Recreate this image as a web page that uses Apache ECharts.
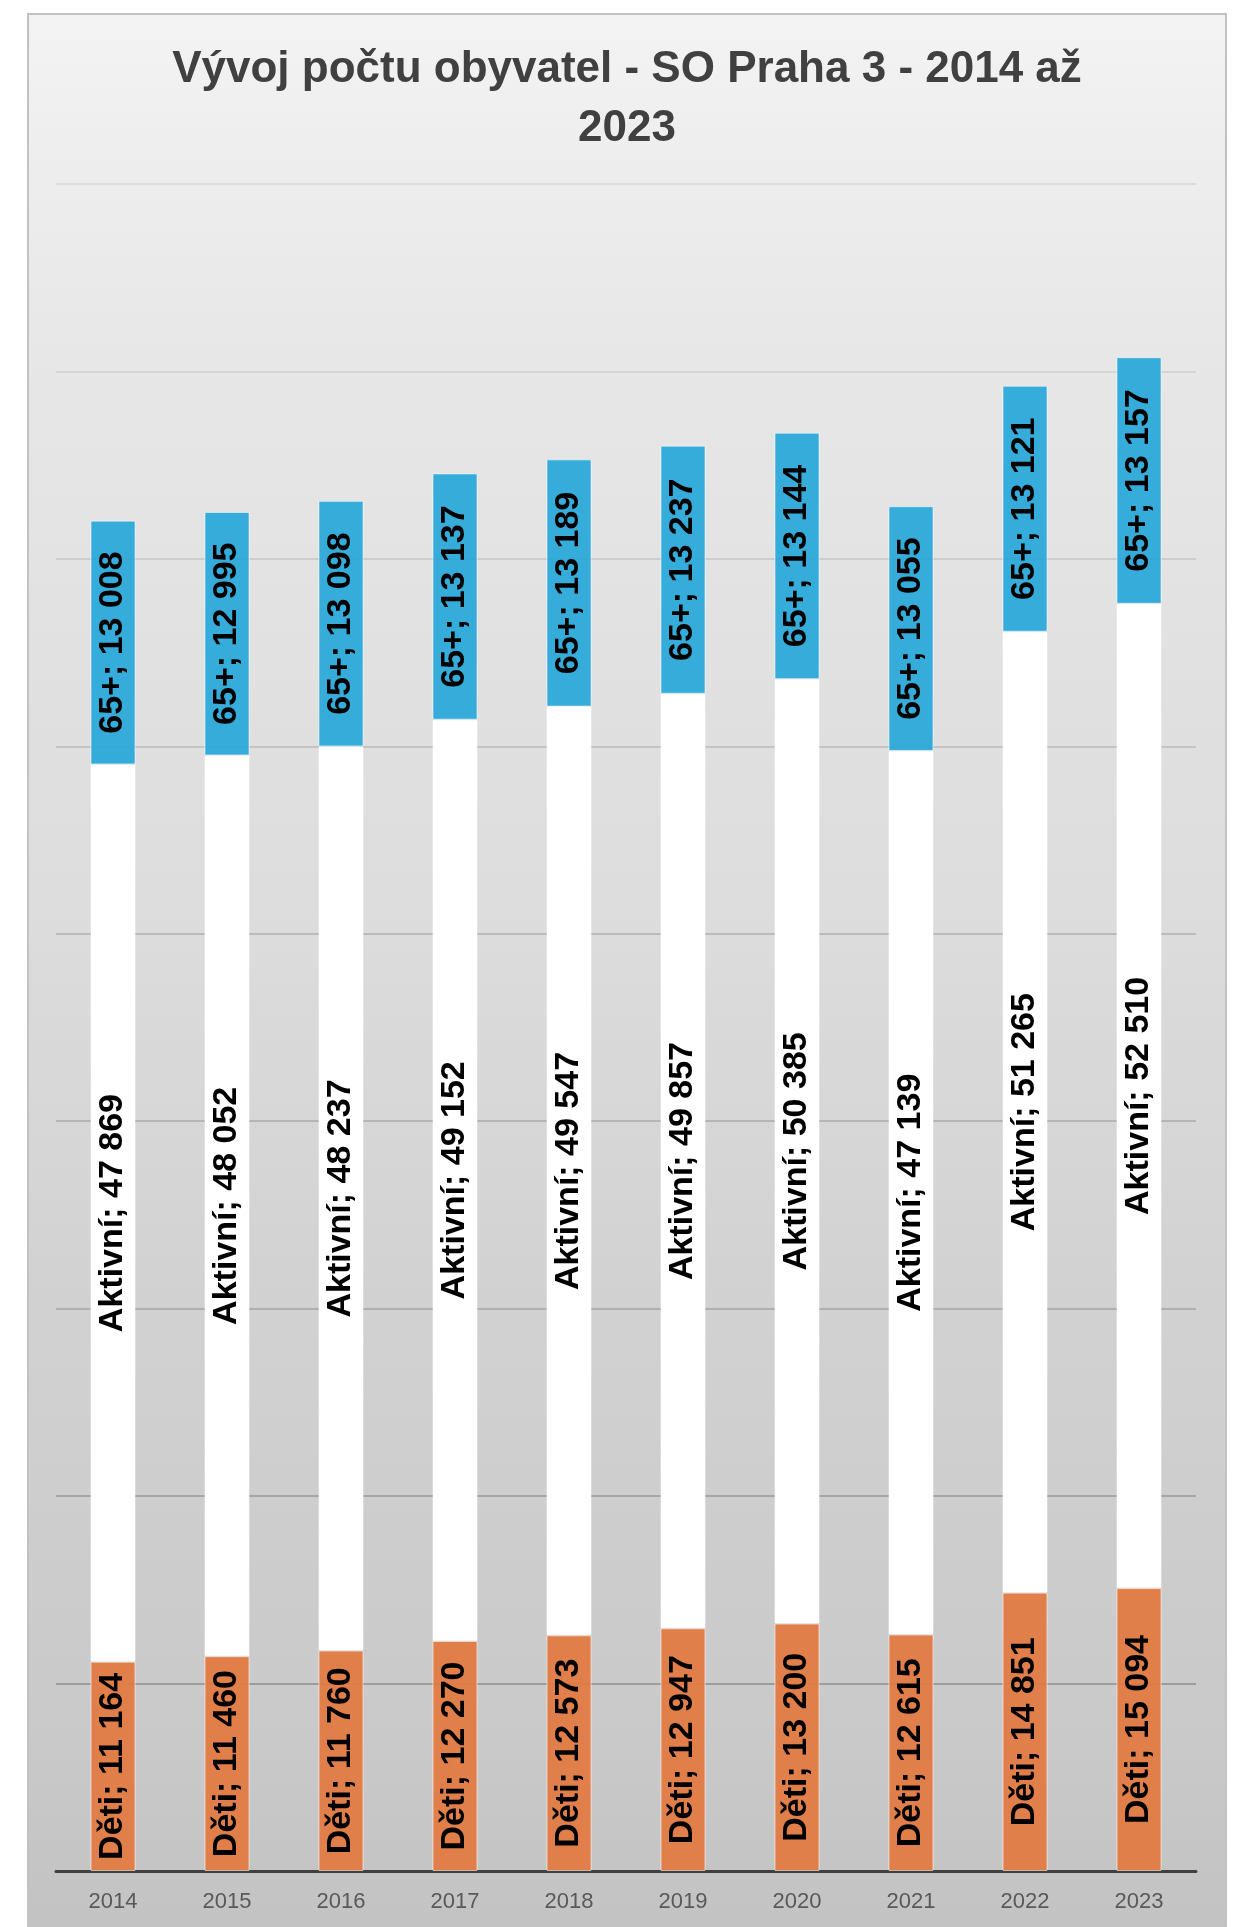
<!DOCTYPE html>
<html>
<head>
<meta charset="utf-8">
<script src="https://cdn.jsdelivr.net/npm/echarts@6/dist/echarts.min.js"></script>
<style>
html,body{margin:0;padding:0;background:#ffffff;width:1236px;height:1927px;overflow:hidden;}
#frame{position:absolute;left:27px;top:13px;width:1196px;height:1914px;border:2px solid #c2c2c2;border-bottom:none;}
#chart{width:1196px;height:1912px;}
</style>
</head>
<body>
<div id="frame"><div id="chart"></div></div>
<script>
const titleText = 'Vývoj počtu obyvatel - SO Praha 3 - 2014 až\n2023';
const years = ['2014','2015','2016','2017','2018','2019','2020','2021','2022','2023'];
const deti = [11164, 11460, 11760, 12270, 12573, 12947, 13200, 12615, 14851, 15094];
const aktivni = [47869, 48052, 48237, 49152, 49547, 49857, 50385, 47139, 51265, 52510];
const senior = [13008, 12995, 13098, 13137, 13189, 13237, 13144, 13055, 13121, 13157];
const yMax = 90000;
const yInterval = 10000;

function fmt(v){
  return String(v).replace(/\B(?=(\d{3})+(?!\d))/g, ' ');
}
const labelCfg = {
  show: true,
  position: 'inside',
  rotate: 90,
  color: '#000000',
  fontFamily: '"Liberation Sans", Arial, sans-serif',
  fontWeight: 'bold',
  fontSize: 34,
  formatter: p => p.seriesName + '; ' + fmt(p.value)
};
function mk(name, data, color){
  return {
    name: name,
    type: 'bar',
    stack: 'total',
    barWidth: 45,
    data: data,
    itemStyle: {color: color, borderColor: 'rgba(255,255,255,0.55)', borderWidth: 1},
    label: labelCfg
  };
}
const chart = echarts.init(document.getElementById('chart'), null, {renderer: 'canvas'});
chart.setOption({
  animation: false,
  backgroundColor: {
    type: 'linear', x: 0, y: 0, x2: 0, y2: 1,
    colorStops: [
      {offset: 0, color: '#f3f3f3'},
      {offset: 0.1, color: '#ececec'},
      {offset: 0.2, color: '#e6e6e6'},
      {offset: 0.48, color: '#dcdcdc'},
      {offset: 0.68, color: '#d1d1d1'},
      {offset: 0.88, color: '#cacaca'},
      {offset: 1, color: '#c3c3c3'}
    ]
  },
  title: {
    text: titleText,
    left: 'center',
    top: 20,
    textStyle: {
      fontFamily: '"Liberation Sans", Arial, sans-serif',
      fontWeight: 'bold',
      fontSize: 44,
      lineHeight: 59,
      color: '#404040'
    }
  },
  legend: {show: false},
  grid: {left: 27, top: 169, width: 1140, height: 1687},
  xAxis: {
    type: 'category',
    data: years,
    axisLine: {lineStyle: {color: '#404040', width: 3}},
    axisTick: {show: false},
    axisLabel: {
      color: '#595959',
      fontSize: 22,
      margin: 20,
      fontFamily: '"Liberation Sans", Arial, sans-serif'
    }
  },
  yAxis: {
    type: 'value',
    min: 0,
    max: yMax,
    interval: yInterval,
    axisLabel: {show: false},
    axisLine: {show: false},
    axisTick: {show: false},
    splitLine: {
      lineStyle: {
        width: 1.5,
        color: ['#8c8c8c','#8e8e8e','#999999','#a3a3a3','#aaaaaa','#b0b0b0','#bbbbbb','#c6c6c6','#cfcfcf','#d7d7d7']
      }
    }
  },
  series: [
    mk('Děti', deti, 'rgba(226,122,66,0.94)'),
    mk('Aktivní', aktivni, '#ffffff'),
    mk('65+', senior, 'rgba(41,168,217,0.94)')
  ]
});
</script>
</body>
</html>
